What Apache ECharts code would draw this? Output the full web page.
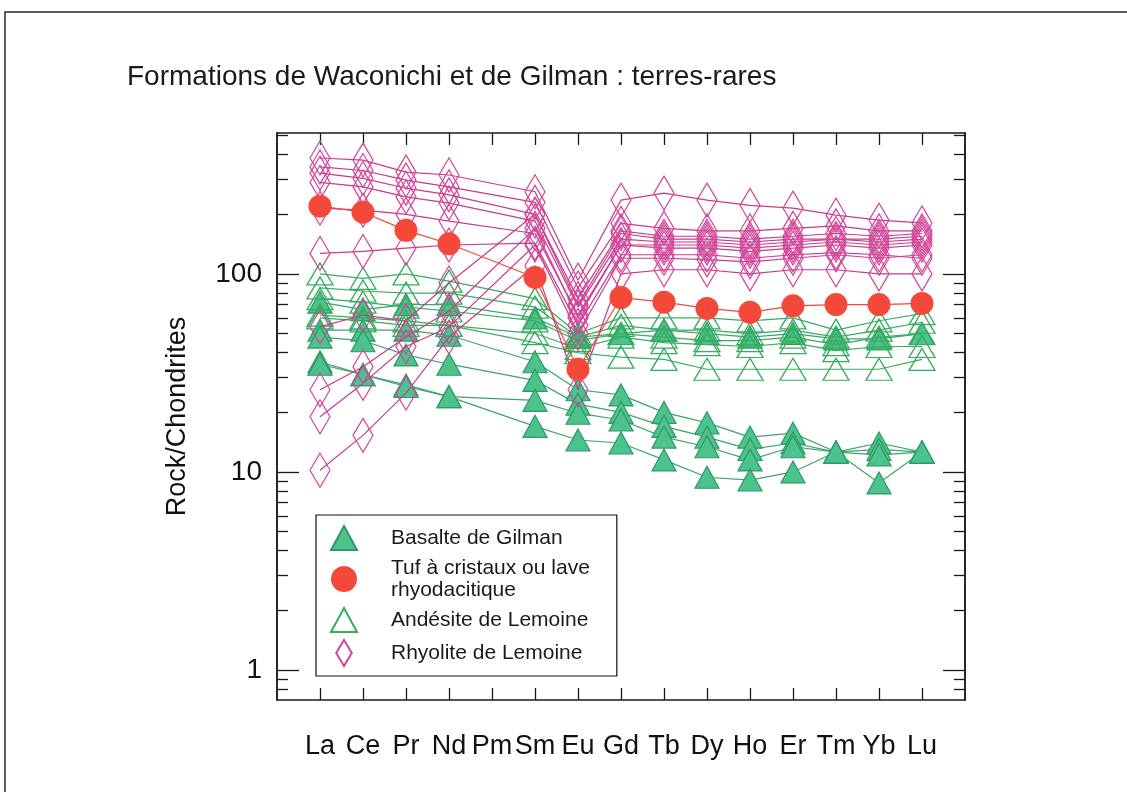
<!DOCTYPE html>
<html><head><meta charset="utf-8">
<script src="https://cdn.jsdelivr.net/npm/echarts@6/dist/echarts.min.js"></script>
<style>html,body{margin:0;padding:0;background:#fff}#c{width:1127px;height:793px}</style>
</head><body><div id="c"></div>
<script>
const elements = ['La','Ce','Pr','Nd','Pm','Sm','Eu','Gd','Tb','Dy','Ho','Er','Tm','Yb','Lu'];
const yLabelTicks = [1, 10, 100];
const yMinorTicks = [0.8, 0.9, 2, 3, 4, 5, 6, 7, 8, 9, 20, 30, 40, 50, 60, 70, 80, 90, 200, 300, 400, 500];
// Basalte de Gilman (filled triangles)
const basalte = [
  [72, 66, 70, 70, null, 60, 48, 50, 52, 50, 48, 50, 47, 47, 50],
  [52, 52, 52, 49, null, 36, 26, 24.5, 20, 17.7, 15, 15.7, 12.6, 14, 12.6],
  [48, 46, 39, 35, null, 29, 22, 20, 17, 15, 13, 14, 12.6, 13, 12.6],
  [36, 31, 27.5, 24, null, 23, 19.8, 18.3, 15, 13.4, 11.5, 13.4, 12.6, 12.2, 12.6],
  [35, 31, 27, 24, null, 17, 14.5, 14, 11.5, 9.4, 9.1, 10, 12.6, 8.8, 12.6]
];
// Tuf à cristaux ou lave rhyodacitique (red circles)
const tuf = [
  [220, 205, 166, 142, null, 96, 33, 76, 72, 67, 64, 69, 70, 70, 71]
];
// Andésite de Lemoine (open triangles)
const andesite = [
  [100, 95, 100, 92, null, 75, 50, 60, 60, 60, 58, 60, 52, 58, 63],
  [85, 82, 80, 80, null, 68, 48, 55, 52, 52, 50, 52, 48, 52, 57],
  [75, 72, 68, 65, null, 58, 46, 50, 48, 46, 46, 48, 44, 48, 50],
  [62, 60, 58, 55, null, 50, 42, 48, 45, 44, 43, 45, 41, 43, 43],
  [60, 58, 55, 55, null, 45, 40, 38, 37, 33, 33, 33, 33, 33, 37]
];
// Rhyolite de Lemoine (open diamonds)
const rhyolite = [
  [385, 376, 327, 316, null, 260, 93, 236, 256, 236, 222, 215, 198, 187, 181],
  [347, 333, 298, 275, null, 230, 85, 180, 170, 165, 165, 170, 175, 165, 165],
  [323, 304, 271, 251, null, 200, 75, 165, 155, 155, 150, 155, 160, 155, 160],
  [290, 275, 245, 228, null, 185, 68, 150, 145, 145, 140, 145, 150, 145, 150],
  [215, 210, 200, 185, null, 160, 62, 140, 135, 135, 130, 135, 140, 135, 140],
  [127, 130, 135, 140, null, 143, 55, 125, 125, 125, 120, 125, 128, 125, 120],
  [54, 62, 58, 90, null, 200, 70, 160, 150, 150, 145, 150, 150, 150, 155],
  [26, 34, 48, 65, null, 170, 60, 140, 140, 140, 135, 140, 145, 140, 145],
  [19, 28, 43, 54, null, 140, 50, 120, 120, 118, 115, 120, 125, 120, 125],
  [10.2, 15.3, 25, 48, null, 110, 26, 100, 105, 105, 100, 105, 105, 100, 100]
];

const FONT = '"Liberation Sans", Arial, sans-serif';
const AX = '#1a1a1a';
function pts(row) { return row.map((v, i) => v == null ? null : [i + 1, v]).filter(p => p); }

const groups = [
  {name: 'Basalte de Gilman', rows: basalte, symbol: 'triangle', size: [24, 22],
   icon: 'path://M13,0 L26,24 L0,24 Z',
   item: {color: '#4cc28f', borderColor: '#2f9a63', borderWidth: 1.2}, line: '#3aa56c', z: 2},
  {name: 'Andésite de Lemoine', rows: andesite, symbol: 'triangle', size: [26, 22],
   icon: 'path://M13,0 L26,24 L0,24 Z',
   item: {color: 'rgba(255,255,255,0)', borderColor: '#35ad5e', borderWidth: 1.3}, line: '#3aab62', z: 3},
  {name: 'Rhyolite de Lemoine', rows: rhyolite, symbol: 'diamond', size: [20, 34],
   icon: 'path://M9,0 L18,15 L9,30 L0,15 Z',
   item: {color: 'rgba(255,255,255,0)', borderColor: '#d2479a', borderWidth: 1.3}, line: '#c83a8c', z: 4},
  {name: 'Tuf à cristaux ou lave\nrhyodacitique', rows: tuf, symbol: 'circle', size: 23,
   icon: 'circle',
   item: {color: '#f4493a', borderColor: '#f4493a', borderWidth: 0}, line: '#ef4a36', z: 5}
];

const series = [];
groups.forEach(g => {
  g.rows.forEach(r => {
    series.push({
      type: 'line', name: g.name, data: pts(r), symbol: g.symbol, symbolSize: g.size,
      showAllSymbol: true, itemStyle: g.item, lineStyle: {color: g.line, width: 1.2},
      z: g.z, animation: false, silent: true
    });
  });
});

const xTicks = elements.map((e, i) => i + 1);
const lineSt = {color: AX, width: 1.5};
function yAx(pos, major, labels) {
  return {
    type: 'log', logBase: 10, min: 0.705, max: 515, position: pos,
    axisLine: {show: true, lineStyle: lineSt},
    axisTick: {show: true, inside: true, length: major ? 22 : 11, customValues: major ? yLabelTicks : yMinorTicks, lineStyle: {color: AX, width: 1.3}},
    axisLabel: labels ? {show: true, customValues: yLabelTicks, fontSize: 28, color: '#111', fontFamily: FONT, margin: 15, formatter: v => String(v)} : {show: false},
    splitLine: {show: false},
    name: labels ? 'Rock/Chondrites' : '', nameLocation: 'middle', nameRotate: 90, nameGap: 86,
    nameTextStyle: {fontSize: 27, color: '#111', fontFamily: FONT}
  };
}

const legendOrder = [groups[0], groups[3], groups[1], groups[2]];
const option = {
  backgroundColor: '#fff',
  animation: false,
  title: {text: 'Formations de Waconichi et de Gilman : terres-rares', left: 122, top: 58,
    textStyle: {fontSize: 28, fontWeight: 'normal', color: '#1a1a1a', fontFamily: FONT}},
  grid: {left: 277, top: 133, width: 688, height: 567, show: false},
  xAxis: [
    {type: 'value', min: 0, max: 16, position: 'bottom',
     axisLine: {show: true, lineStyle: lineSt},
     axisTick: {show: true, inside: true, length: 12, customValues: xTicks, lineStyle: {color: AX, width: 1.3}},
     axisLabel: {show: true, customValues: xTicks, formatter: v => elements[Math.round(v) - 1], fontSize: 27, color: '#111', fontFamily: FONT, margin: 33},
     splitLine: {show: false}},
    {type: 'value', min: 0, max: 16, position: 'top',
     axisLine: {show: true, lineStyle: lineSt},
     axisTick: {show: true, inside: true, length: 12, customValues: xTicks, lineStyle: {color: AX, width: 1.3}},
     axisLabel: {show: false}, splitLine: {show: false}}
  ],
  yAxis: [yAx('left', true, true), yAx('left', false, false), yAx('right', true, false), yAx('right', false, false)],
  legend: {
    orient: 'vertical', left: 316, top: 515,
    backgroundColor: '#fff', borderColor: '#111', borderWidth: 1.2, borderRadius: 0,
    padding: [10, 27, 9, 14], itemGap: 6, itemWidth: 26, itemHeight: 26,
    data: legendOrder.map(g => ({name: g.name, icon: g.icon})),
    selectedMode: false,
    textStyle: {fontSize: 21, color: '#1a1a1a', fontFamily: FONT, lineHeight: 22,
      rich: {t: {fontSize: 21, color: '#1a1a1a', fontFamily: FONT, lineHeight: 22, padding: [0, 0, 0, 29]}}},
    formatter: n => n.split('\n').map(s => '{t|' + s + '}').join('\n')
  },
  graphic: [
    {type: 'polyline', shape: {points: [[5, 792], [5, 12], [1127, 12]]}, style: {stroke: '#2a2a2a', lineWidth: 1.5, fill: null}, silent: true}
  ],
  series: series
};
const chart = echarts.init(document.getElementById('c'), null, {renderer: 'canvas'});
chart.setOption(option);
</script></body></html>
